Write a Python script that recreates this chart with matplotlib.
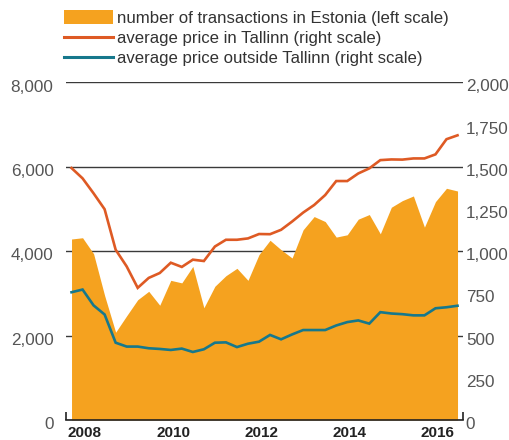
import matplotlib
matplotlib.use("Agg")
import matplotlib.pyplot as plt
import numpy as np
from matplotlib.patches import Patch
from matplotlib.lines import Line2D
from matplotlib.transforms import ScaledTranslation

plt.rcParams['font.family'] = ['Liberation Sans', 'DejaVu Sans']

# quarters 2008Q1 .. 2016Q4
years = list(range(2008, 2017))
quarters = [y + (q + 0.5) / 4 for y in years for q in range(4)]

transactions = [4290, 4320, 3940, 2950, 2080, 2470, 2850, 3050, 2720, 3310,
                3250, 3640, 2660, 3170, 3420, 3595, 3310, 3920, 4260, 4036,
                3840, 4508, 4822, 4704, 4335, 4390, 4760, 4870, 4413, 5043,
                5200, 5310, 4571, 5176, 5492, 5428]

price_tallinn = [1493, 1432, 1343, 1249, 1009, 910, 783, 842, 871, 932,
                 907, 950, 942, 1028, 1068, 1068, 1076, 1102, 1101, 1127,
                 1176, 1229, 1274, 1333, 1416, 1416, 1461, 1491, 1540, 1544,
                 1543, 1550, 1550, 1574, 1664, 1687]

price_outside = [757, 773, 679, 625, 458, 435, 435, 425, 421, 415,
                 423, 403, 419, 458, 460, 432, 452, 464, 504, 478,
                 507, 533, 533, 533, 560, 580, 590, 571, 639, 631,
                 627, 620, 620, 662, 668, 677]

left_ticks = [0, 2000, 4000, 6000, 8000]
right_ticks = [0, 250, 500, 750, 1000, 1250, 1500, 1750, 2000]
year_labels = [2008, 2010, 2012, 2014, 2016]

c_area = '#F5A21F'
c_tal = '#DE5A24'
c_out = '#16788C'

fig = plt.figure(figsize=(5.09, 4.40), dpi=100)
ax = fig.add_axes([0.1297, 0.0455, 0.78, 0.767])
ax2 = ax.twinx()

ax.set_axisbelow(True)
ax.fill_between(quarters, transactions, 0, color=c_area, linewidth=0)
ax2.plot(quarters, price_tallinn, color=c_tal, lw=1.9, solid_joinstyle='miter')
ax2.plot(quarters, price_outside, color=c_out, lw=1.9, solid_joinstyle='miter')

ax.set_xlim(2008, 2017)
ax.set_ylim(0, 8000)
ax2.set_ylim(0, 2000)

ax.set_yticks(left_ticks)
ax.set_yticklabels(['{:,}'.format(v) for v in left_ticks])
ax2.set_yticks(right_ticks)
ax2.set_yticklabels(['{:,}'.format(v) for v in right_ticks])
ax.yaxis.grid(True, color='#3a3a3a', lw=1.0)
ax.tick_params(axis='y', length=0, pad=9, labelsize=12.3, labelcolor='#555555')
ax2.tick_params(axis='y', length=0, pad=2, labelsize=12.3, labelcolor='#555555')
# labels sit a little below their gridlines in the original
shift = ScaledTranslation(0, -3 / 100, fig.dpi_scale_trans)
for t in ax.get_yticklabels() + ax2.get_yticklabels():
    t.set_transform(t.get_transform() + shift)

ax.set_xticks(range(2008, 2018))
ax.set_xticklabels([])
ax.set_xticks([y + 0.43 for y in year_labels], minor=True)
ax.set_xticklabels([str(y) for y in year_labels], minor=True)
ax.tick_params(axis='x', which='major', direction='in', length=6, width=1.2,
               color='#222222')
ax.tick_params(axis='x', which='minor', length=0, pad=4, labelsize=11,
               labelcolor='#222222')
for t in ax.get_xticklabels(minor=True):
    t.set_fontweight('bold')

for a in (ax, ax2):
    for s in ('left', 'right', 'top'):
        a.spines[s].set_visible(False)
    a.spines['bottom'].set_color('#222222')
    a.spines['bottom'].set_linewidth(1.2)
ax2.spines['bottom'].set_visible(False)

handles = [Patch(facecolor=c_area, edgecolor='none'),
           Line2D([], [], color=c_tal, lw=2.2),
           Line2D([], [], color=c_out, lw=2.2)]
labels = ['number of transactions in Estonia (left scale)',
          'average price in Tallinn (right scale)',
          'average price outside Tallinn (right scale)']
leg = fig.legend(handles, labels, loc='upper left',
                 bbox_to_anchor=(64 / 509, 1 - 10 / 440), frameon=False,
                 fontsize=12.1, handlelength=2.9, handleheight=0.95,
                 handletextpad=0.24, labelspacing=0.25, borderpad=0,
                 borderaxespad=0)
for t in leg.get_texts():
    t.set_color('#333333')

fig.savefig('out.png', dpi=100)
